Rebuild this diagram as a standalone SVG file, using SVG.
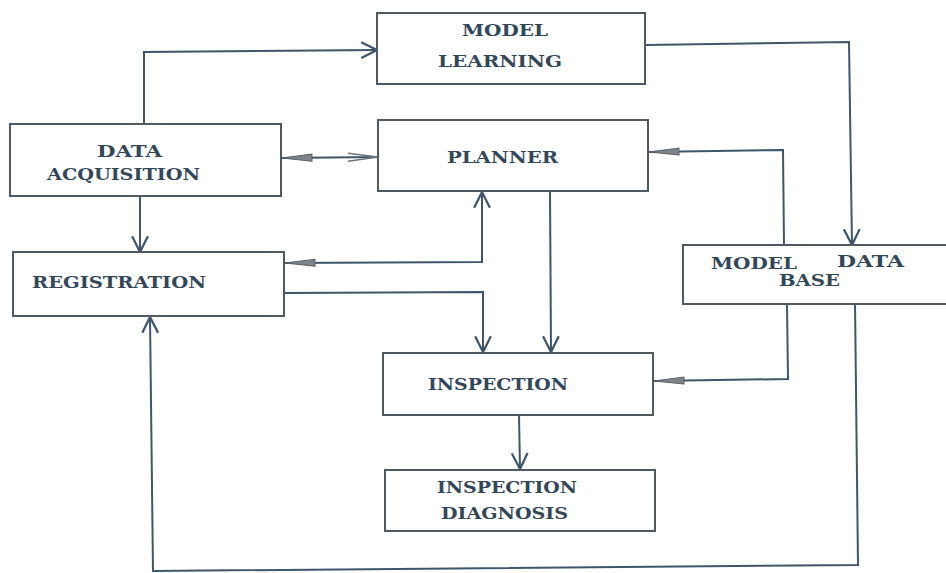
<svg xmlns="http://www.w3.org/2000/svg" width="946" height="573" viewBox="0 0 946 573">
<style>
.box{fill:#ffffff;stroke:#4f5a63;stroke-width:2}
.lbl{font-family:"DejaVu Serif","Liberation Serif",serif;font-weight:bold;font-size:16px;fill:#33475b}
.ln{fill:none;stroke:#3f566b;stroke-width:2}
</style>
<defs>
<marker id="chev" markerUnits="userSpaceOnUse" markerWidth="18" markerHeight="18" viewBox="0 0 16 16" refX="15" refY="8" orient="auto">
<path d="M1,1 L15,8 L1,15" fill="none" stroke="#3f566b" stroke-width="2"/>
</marker>
<marker id="tri" markerUnits="userSpaceOnUse" markerWidth="32" markerHeight="12" viewBox="0 0 32 12" refX="31" refY="6" orient="auto-start-reverse">
<path d="M1,2.5 L31,6 L1,9.5 Z" fill="#7d848a" stroke="#5a636b" stroke-width="1"/>
</marker>
<marker id="otri" markerUnits="userSpaceOnUse" markerWidth="32" markerHeight="12" viewBox="0 0 32 12" refX="31" refY="6" orient="auto">
<path d="M1,2 L31,6 L1,10" fill="none" stroke="#6d767e" stroke-width="1.5"/>
</marker>
</defs>

<g id="connectors">
<path class="ln" d="M144,125 L144,52 L377,50" marker-end="url(#chev)"/>
<path class="ln" d="M646,45 L849,42 L852,245" marker-end="url(#chev)"/>
<path class="ln" d="M282,158 L378,157" marker-start="url(#tri)" marker-end="url(#otri)"/>
<path class="ln" d="M140,197 L140,252" marker-end="url(#chev)"/>
<path class="ln" d="M285,263 L482,262 L482,192" marker-start="url(#tri)" marker-end="url(#chev)"/>
<path class="ln" d="M285,293 L483,292 L483,352" marker-end="url(#chev)"/>
<path class="ln" d="M550,190 L551,352" marker-end="url(#chev)"/>
<path class="ln" d="M787,304 L788,379 L654,381" marker-end="url(#tri)"/>
<path class="ln" d="M784,245 L783,150 L649,152" marker-end="url(#tri)"/>
<path class="ln" d="M519,415 L520,469" marker-end="url(#chev)"/>
<path class="ln" d="M855,302 L858,565 L153,571 L150,317" marker-end="url(#chev)"/>
</g>

<g id="model-learning">
<rect class="box" x="377" y="13" width="268" height="71"/>
<text class="lbl" x="462" y="36" textLength="86" lengthAdjust="spacingAndGlyphs">MODEL</text>
<text class="lbl" x="438" y="67" textLength="124" lengthAdjust="spacingAndGlyphs">LEARNING</text>
</g>

<g id="data-acquisition">
<rect class="box" x="10" y="124" width="271" height="72"/>
<text class="lbl" x="97" y="157" textLength="65" lengthAdjust="spacingAndGlyphs">DATA</text>
<text class="lbl" x="47" y="180" textLength="153" lengthAdjust="spacingAndGlyphs">ACQUISITION</text>
</g>

<g id="planner">
<rect class="box" x="378" y="120" width="270" height="71"/>
<text class="lbl" x="447" y="163" textLength="111" lengthAdjust="spacingAndGlyphs">PLANNER</text>
</g>

<g id="registration">
<rect class="box" x="13" y="252" width="271" height="64"/>
<text class="lbl" x="32" y="288" textLength="174" lengthAdjust="spacingAndGlyphs">REGISTRATION</text>
</g>

<g id="model-data-base">
<rect class="box" x="683" y="245" width="290" height="59"/>
<text class="lbl" x="711" y="269" textLength="86" lengthAdjust="spacingAndGlyphs">MODEL</text>
<text class="lbl" x="837" y="267" textLength="67" lengthAdjust="spacingAndGlyphs">DATA</text>
<text class="lbl" x="779" y="286" textLength="61" lengthAdjust="spacingAndGlyphs">BASE</text>
</g>

<g id="inspection">
<rect class="box" x="383" y="353" width="270" height="62"/>
<text class="lbl" x="428" y="390" textLength="140" lengthAdjust="spacingAndGlyphs">INSPECTION</text>
</g>

<g id="inspection-diagnosis">
<rect class="box" x="385" y="470" width="270" height="61"/>
<text class="lbl" x="437" y="493" textLength="140" lengthAdjust="spacingAndGlyphs">INSPECTION</text>
<text class="lbl" x="441" y="519" textLength="127" lengthAdjust="spacingAndGlyphs">DIAGNOSIS</text>
</g>
</svg>
